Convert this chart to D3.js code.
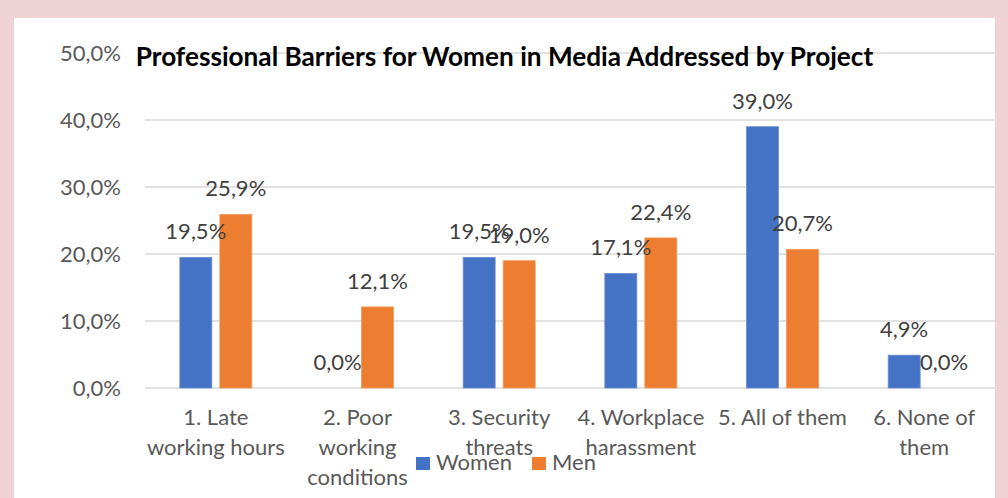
<!DOCTYPE html>
<html>
<head>
<meta charset="utf-8">
<script src="https://cdn.jsdelivr.net/npm/d3@7"></script>
<style>
  html, body { margin: 0; padding: 0; background: #ffffff; }
  svg { display: block; font-family: Lato, "Open Sans", sans-serif; }
</style>
</head>
<body>
<svg id="chart" width="1008" height="498"></svg>
<script>
// Survey results: share of respondents naming each barrier
const categories = [
  ["1. Late", "working hours"],
  ["2. Poor", "working", "conditions"],
  ["3. Security", "threats"],
  ["4. Workplace", "harassment"],
  ["5. All of them"],
  ["6. None of", "them"]
];
const seriesNames = ["Women", "Men"];
const women = [19.5, 0.0, 19.5, 17.1, 39.0, 4.9];
const men = [25.9, 12.1, 19.0, 22.4, 20.7, 0.0];
const yTicks = [0, 10, 20, 30, 40, 50];
const colors = ["#4472C4", "#ED7D31"];
const title = "Professional Barriers for Women in Media Addressed by Project";

const W = 1008, H = 498;
const FS = 22;
const svg = d3.select("#chart");

// page frame
svg.append("rect").attr("x", 0).attr("y", 0).attr("width", W).attr("height", H).attr("fill", "#efd3d4");
svg.append("rect").attr("x", 14).attr("y", 18).attr("width", 981).attr("height", H - 18).attr("fill", "#ffffff");

const plot = { left: 145, right: 995, top: 53, bottom: 388 };

const x0 = d3.scaleBand().domain(d3.range(categories.length)).range([plot.left, plot.right]).paddingInner(0).paddingOuter(0);
const x1 = d3.scaleBand().domain(seriesNames).range([x0.bandwidth() / 2 - 36, x0.bandwidth() / 2 + 36]).paddingInner(0.2);
const y = d3.scaleLinear().domain([0, 50]).range([plot.bottom, plot.top]);

const fmt = v => d3.format(".1f")(v).replace(".", ",") + "%";

// gridlines
svg.append("g").selectAll("line").data(yTicks).join("line")
  .attr("x1", plot.left).attr("x2", plot.right)
  .attr("y1", d => y(d)).attr("y2", d => y(d))
  .attr("stroke", "#d9d9d9").attr("stroke-width", 1.5);

// y axis labels
const yAxis = d3.axisLeft(y).tickValues(yTicks).tickSize(0).tickPadding(0).tickFormat(fmt);
const ya = svg.append("g").attr("transform", "translate(121,0)").call(yAxis);
ya.select(".domain").remove();
ya.selectAll("text").attr("font-family", "Lato, sans-serif").attr("font-size", FS).attr("fill", "#595959");

// title
svg.append("text").attr("x", 504.5).attr("y", 66).attr("text-anchor", "middle")
  .attr("font-size", 26.2).attr("font-weight", "bold").attr("fill", "#000000").text(title);

// bars
const rows = categories.map((c, i) => ({ i, values: [women[i], men[i]] }));
const groups = svg.append("g").selectAll("g").data(rows).join("g")
  .attr("transform", d => `translate(${x0(d.i)},0)`);

groups.selectAll("rect").data(d => d.values.map((v, k) => ({ v, k }))).join("rect")
  .attr("x", d => x1(seriesNames[d.k]))
  .attr("width", x1.bandwidth())
  .attr("y", d => y(d.v))
  .attr("height", d => plot.bottom - y(d.v))
  .attr("fill", d => colors[d.k])
  .attr("stroke", d => d.k === 0 ? "#6d8fd0" : "#f19a5d")
  .attr("stroke-width", 0.8);

groups.selectAll("text").data(d => d.values.map((v, k) => ({ v, k }))).join("text")
  .attr("x", d => x1(seriesNames[d.k]) + x1.bandwidth() / 2)
  .attr("y", d => y(d.v) - 18)
  .attr("text-anchor", "middle")
  .attr("font-size", FS).attr("fill", "#404040")
  .text(d => fmt(d.v));

// category labels
const xl = svg.append("g").selectAll("text").data(categories).join("text")
  .attr("x", (d, i) => x0(i) + x0.bandwidth() / 2)
  .attr("y", 425)
  .attr("text-anchor", "middle")
  .attr("font-size", FS).attr("fill", "#595959");
xl.selectAll("tspan").data(d => d).join("tspan")
  .attr("x", function () { return this.parentNode.getAttribute("x"); })
  .attr("dy", (d, j) => j === 0 ? 0 : 30)
  .text(d => d);

// legend
const legend = svg.append("g");
const legendItems = [{ name: seriesNames[0], x: 416 }, { name: seriesNames[1], x: 532 }];
legendItems.forEach((it, k) => {
  legend.append("rect").attr("x", it.x).attr("y", 457).attr("width", 14).attr("height", 13).attr("fill", colors[k]);
  legend.append("text").attr("x", it.x + 20).attr("y", 470).attr("font-size", FS).attr("fill", "#595959").text(it.name);
});
</script>
</body>
</html>
